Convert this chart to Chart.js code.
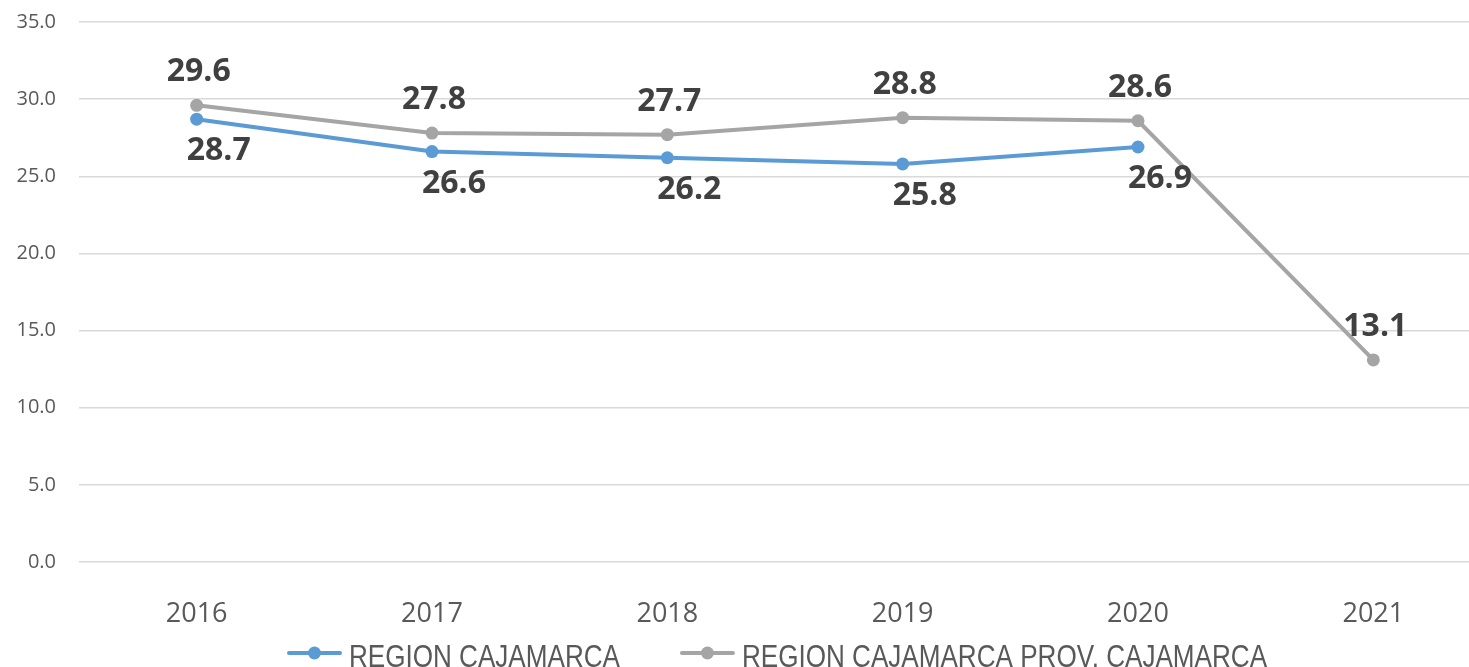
<!DOCTYPE html>
<html>
<head>
<meta charset="utf-8">
<script src="https://cdn.jsdelivr.net/npm/chart.js@4"></script>
<style>
  html, body { margin: 0; padding: 0; background: #fff; overflow: hidden; }
  #wrap { width: 1500px; height: 667px; }
</style>
</head>
<body>
<div id="wrap"><canvas id="lineChart"></canvas></div>
<script>
// data
const years = ['2016', '2017', '2018', '2019', '2020', '2021'];
const regionValues = [28.7, 26.6, 26.2, 25.8, 26.9, null];
const provinceValues = [29.6, 27.8, 27.7, 28.8, 28.6, 13.1];
const seriesNames = ['REGION CAJAMARCA', 'REGION CAJAMARCA PROV. CAJAMARCA'];
const yTicks = [0, 5, 10, 15, 20, 25, 30, 35];

const labelFont = 'bold 32px "Open Sans"';

// value labels drawn next to each point
const valueLabels = {
    id: 'valueLabels',
    afterDatasetsDraw(chart) {
        const ctx = chart.ctx;
        ctx.save();
        ctx.font = labelFont;
        ctx.fillStyle = '#404040';
        ctx.textAlign = 'center';
        ctx.textBaseline = 'middle';
        chart.data.datasets.forEach((ds, i) => {
            const meta = chart.getDatasetMeta(i);
            meta.data.forEach((pt, j) => {
                const v = ds.data[j];
                if (v === null || v === undefined) return;
                const below = ds.labelBelow;
                const dx = below ? 22 : 2;
                const dy = below ? 32 : -33;
                ctx.fillText(v.toFixed(1), pt.x + dx, pt.y + dy);
            });
        });
        ctx.restore();
    }
};

// Excel-like legend: line with a dot, then a tall narrow name
const lineLegend = {
    id: 'lineLegend',
    afterDraw(chart) {
        const ctx = chart.ctx;
        const area = chart.chartArea;
        ctx.save();
        ctx.font = '32px "Liberation Sans", sans-serif';
        ctx.textBaseline = 'alphabetic';
        const squeeze = 0.815;
        const sym = 55, gap = 7, between = 60;
        const items = chart.data.datasets.map(ds => ({ ds, w: ctx.measureText(ds.label).width * squeeze }));
        const total = items.reduce((s, it) => s + sym + gap + it.w, 0) + between * (items.length - 1);
        let x = (area.left + area.right) / 2 - 8 - total / 2;
        const y = 653;
        items.forEach(it => {
            ctx.strokeStyle = it.ds.borderColor;
            ctx.lineWidth = 4;
            ctx.lineCap = 'round';
            ctx.beginPath();
            ctx.moveTo(x + 2, y);
            ctx.lineTo(x + sym - 2, y);
            ctx.stroke();
            ctx.fillStyle = it.ds.borderColor;
            ctx.beginPath();
            ctx.arc(x + sym / 2, y, 6.5, 0, Math.PI * 2);
            ctx.fill();
            ctx.fillStyle = '#595959';
            ctx.save();
            ctx.translate(x + sym + gap, 667);
            ctx.scale(squeeze, 1);
            ctx.fillText(it.ds.label, 0, 0);
            ctx.restore();
            x += sym + gap + it.w + between;
        });
        ctx.restore();
    }
};

document.addEventListener('DOMContentLoaded', () => {
    const ctx = document.getElementById('lineChart').getContext('2d');
    new Chart(ctx, {
        type: 'line',
        data: {
            labels: years,
            datasets: [{
                label: seriesNames[0],
                data: regionValues,
                borderColor: '#5B9BD5',
                backgroundColor: '#5B9BD5',
                borderWidth: 4,
                pointRadius: 6.5,
                pointBorderWidth: 0,
                labelBelow: true,
                order: 1
            }, {
                label: seriesNames[1],
                data: provinceValues,
                borderColor: '#A5A5A5',
                backgroundColor: '#A5A5A5',
                borderWidth: 4,
                pointRadius: 6.5,
                pointBorderWidth: 0,
                labelBelow: false,
                order: 2
            }]
        },
        options: {
            responsive: true,
            maintainAspectRatio: false,
            animation: false,
            layout: { padding: { top: 22, right: 9, left: 0, bottom: 0 } },
            plugins: {
                legend: { display: false },
                tooltip: { enabled: false }
            },
            scales: {
                x: {
                    offset: true,
                    grid: { display: false },
                    border: { display: false },
                    ticks: {
                        color: '#595959',
                        padding: 28,
                        font: { family: 'Open Sans', size: 27 }
                    },
                    afterFit: s => { s.height = 105; }
                },
                y: {
                    min: 0,
                    max: 35,
                    afterBuildTicks: s => { s.ticks = yTicks.map(v => ({ value: v })); },
                    grid: { color: '#D9D9D9', lineWidth: 1.5, drawTicks: false },
                    border: { display: false },
                    ticks: {
                        color: '#595959',
                        padding: 23,
                        font: { family: 'Open Sans', size: 20 },
                        callback: v => v.toFixed(1)
                    },
                    afterFit: s => {
                        s.width = 79;
                        s.paddingTop = 0;
                        s.paddingBottom = 0;
                    }
                }
            }
        },
        plugins: [valueLabels, lineLegend]
    });
});
</script>
</body>
</html>
